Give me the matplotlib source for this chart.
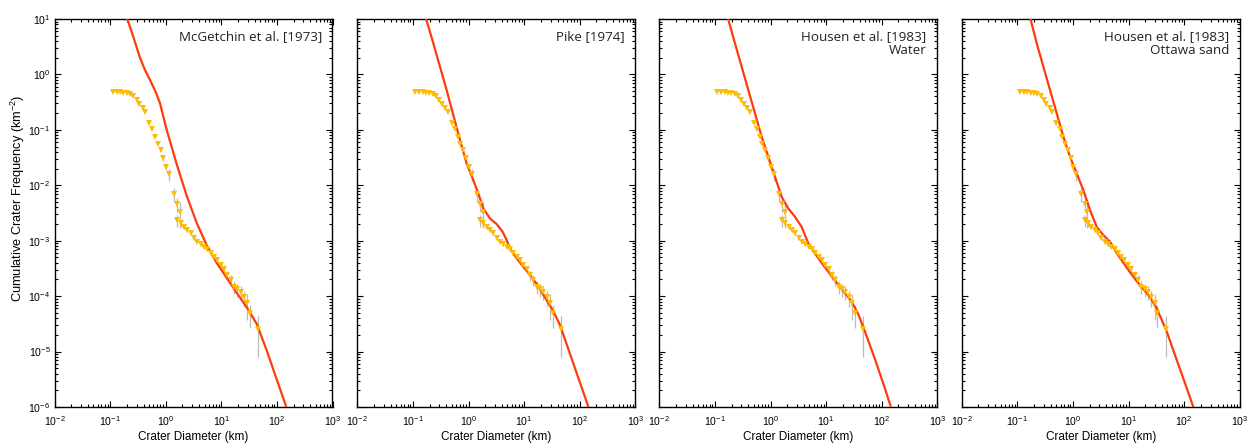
import numpy as np
import matplotlib
matplotlib.use("Agg")
import matplotlib.pyplot as plt
from matplotlib.ticker import LogLocator, NullFormatter, FixedLocator

# ---- observed crater data (log10 D [km], log10 N [km^-2]) ----
obs_logD = [-0.954, -0.882, -0.822, -0.762, -0.702, -0.642, -0.582, -0.523, -0.475, -0.415,
            -0.367, -0.295, -0.241, -0.193, -0.145, -0.091, -0.043, 0.005, 0.059, 0.149,
            0.209, 0.257, 0.209, 0.269, 0.329, 0.389, 0.449, 0.509, 0.569, 0.629,
            0.689, 0.749, 0.809, 0.868, 0.928, 0.988, 1.048, 1.108, 1.168, 1.228,
            1.288, 1.348, 1.408, 1.468, 1.516, 1.666]
obs_logN = [-0.312, -0.318, -0.324, -0.330, -0.342, -0.360, -0.390, -0.462, -0.534, -0.612,
            -0.673, -0.883, -0.992, -1.124, -1.256, -1.365, -1.515, -1.665, -1.804, -2.159,
            -2.339, -2.478, -2.628, -2.688, -2.748, -2.809, -2.869, -2.959, -3.019, -3.067,
            -3.109, -3.158, -3.230, -3.290, -3.350, -3.440, -3.519, -3.621, -3.711, -3.831,
            -3.880, -3.922, -4.024, -4.132, -4.313, -4.584]
# relative 1-sigma error (sigma / N)
obs_relerr = [0.02, 0.02, 0.02, 0.02, 0.02, 0.02, 0.02, 0.02, 0.02, 0.02,
              0.02, 0.02, 0.02, 0.02, 0.02, 0.02, 0.10, 0.12, 0.25, 0.28,
              0.28, 0.50, 0.25, 0.15, 0.10, 0.06, 0.06, 0.06, 0.06, 0.06,
              0.06, 0.08, 0.08, 0.08, 0.08, 0.12, 0.14, 0.18, 0.22, 0.26,
              0.28, 0.30, 0.32, 0.50, 0.45, 0.70]

# ---- model curves (log10 D, log10 N) ----
mcg_logD = [-0.70, -0.583, -0.462, -0.372, -0.282, -0.174, -0.103, 0.018, 0.198, 0.378,
            0.558, 0.737, 0.917, 1.097, 1.277, 1.457, 1.637, 1.817, 1.996, 2.19]
mcg_logN = [1.03, 0.681, 0.30, 0.079, -0.101, -0.33, -0.52, -1.00, -1.62, -2.19,
            -2.68, -3.08, -3.40, -3.67, -3.94, -4.20, -4.50, -4.98, -5.50, -6.06]

pike_logD = [-0.77, -0.633, -0.513, -0.393, -0.273, -0.153, -0.034, 0.086, 0.176, 0.266,
             0.386, 0.506, 0.614, 0.686, 0.746, 0.866, 0.986, 1.106, 1.225, 1.405,
             1.525, 1.645, 1.825, 2.005, 2.175]
pike_logN = [1.03, 0.561, 0.140, -0.282, -0.733, -1.184, -1.605, -1.906, -2.147, -2.418,
             -2.598, -2.700, -2.839, -2.989, -3.140, -3.320, -3.471, -3.621, -3.78, -4.07,
             -4.27, -4.52, -5.04, -5.56, -6.05]

water_logD = [-0.77, -0.639, -0.519, -0.399, -0.279, -0.159, -0.040, 0.080, 0.200, 0.320,
              0.440, 0.560, 0.680, 0.800, 0.920, 1.040, 1.160, 1.280, 1.460, 1.580,
              1.700, 1.880, 2.060, 2.19]
water_logN = [1.03, 0.561, 0.140, -0.282, -0.703, -1.124, -1.485, -1.846, -2.207, -2.418,
              -2.568, -2.749, -3.049, -3.230, -3.400, -3.560, -3.720, -3.870, -4.100, -4.330,
              -4.640, -5.140, -5.670, -6.08]

ott_logD = [-0.77, -0.651, -0.531, -0.411, -0.291, -0.171, -0.052, 0.068, 0.188, 0.308,
            0.428, 0.548, 0.668, 0.788, 0.908, 1.028, 1.148, 1.268, 1.388, 1.508,
            1.688, 1.867, 2.047, 2.18]
ott_logN = [1.03, 0.561, 0.140, -0.282, -0.703, -1.124, -1.485, -1.786, -2.087, -2.448,
            -2.749, -2.899, -3.019, -3.220, -3.400, -3.570, -3.730, -3.870, -4.020, -4.220,
            -4.640, -5.150, -5.660, -6.04]

panel_titles = ["McGetchin et al. [1973]", "Pike [1974]",
                "Housen et al. [1983]\nWater", "Housen et al. [1983]\nOttawa sand"]
curves = [(mcg_logD, mcg_logN), (pike_logD, pike_logN),
          (water_logD, water_logN), (ott_logD, ott_logN)]

x_decades = [-2, -1, 0, 1, 2, 3]
y_decades = [-6, -5, -4, -3, -2, -1, 0, 1]

xlabel = "Crater Diameter (km)"
ylabel = "Cumulative Crater Frequency (km$^{-2}$)"

plt.rcParams['font.family'] = ['Liberation Sans', 'DejaVu Sans']
plt.rcParams['mathtext.fontset'] = 'custom'
plt.rcParams['mathtext.rm'] = 'Liberation Sans'
plt.rcParams['mathtext.it'] = 'Liberation Sans'
plt.rcParams['mathtext.default'] = 'regular'

W, H = 1251, 444
fig = plt.figure(figsize=(W / 100, H / 100), dpi=100)
lefts = [54.5, 357.3, 659.3, 961.7]
axw, axb, axh = 278, 37, 388

D = 10 ** np.array(obs_logD)
N = 10 ** np.array(obs_logN)
E = N * np.array(obs_relerr)

xmin_ticks = [m * 10.0 ** k for k in x_decades[:-1] for m in range(2, 10)]
ymin_ticks = [m * 10.0 ** k for k in y_decades[:-1] for m in range(2, 10)]

for i, left in enumerate(lefts):
    ax = fig.add_axes([left / W, axb / H, axw / W, axh / H])
    ax.set_xscale('log')
    ax.set_yscale('log')

    ax.errorbar(D, N, yerr=E, fmt='none', ecolor='#bbbbbb', elinewidth=0.9, zorder=2)
    cx, cy = curves[i]
    ax.plot(10 ** np.array(cx), 10 ** np.array(cy), color='#ff3a0c', lw=1.6, zorder=3,
            solid_joinstyle='round')
    ax.plot(D, N, linestyle='none', marker='v', markersize=4.8, color='#ffbb00',
            markeredgewidth=0, zorder=4)

    ax.set_xticks([10.0 ** k for k in x_decades])
    ax.set_yticks([10.0 ** k for k in y_decades])
    ax.set_xticklabels([f"$10^{{{k}}}$" for k in x_decades])
    ax.set_yticklabels([f"$10^{{{k}}}$" for k in y_decades])
    ax.xaxis.set_minor_locator(FixedLocator(xmin_ticks))
    ax.yaxis.set_minor_locator(FixedLocator(ymin_ticks))
    ax.xaxis.set_minor_formatter(NullFormatter())
    ax.yaxis.set_minor_formatter(NullFormatter())
    ax.set_xlim(1e-2, 1e3)
    ax.set_ylim(1e-6, 1e1)

    ax.tick_params(which='both', direction='in', top=True, right=True, labelsize=7.6,
                   width=0.8)
    ax.tick_params(axis='x', which='major', pad=5)
    ax.tick_params(axis='y', which='major', pad=3)
    ax.tick_params(which='major', length=4.3)
    ax.tick_params(which='minor', length=2.2)
    for sp in ax.spines.values():
        sp.set_linewidth(1.0)
    if i > 0:
        ax.tick_params(labelleft=False)
    ax.set_xlabel(xlabel, fontsize=8.5, labelpad=2)

    ax.text(0.962, 0.972, panel_titles[i], transform=ax.transAxes, ha='right', va='top',
            fontsize=9.6, family='Open Sans', linespacing=1.15, color='#222222')

fig.text(18 / W, 1 - 198 / H, ylabel, rotation=90, ha='center', va='center', fontsize=9.2)

fig.savefig('out.png', dpi=100)
